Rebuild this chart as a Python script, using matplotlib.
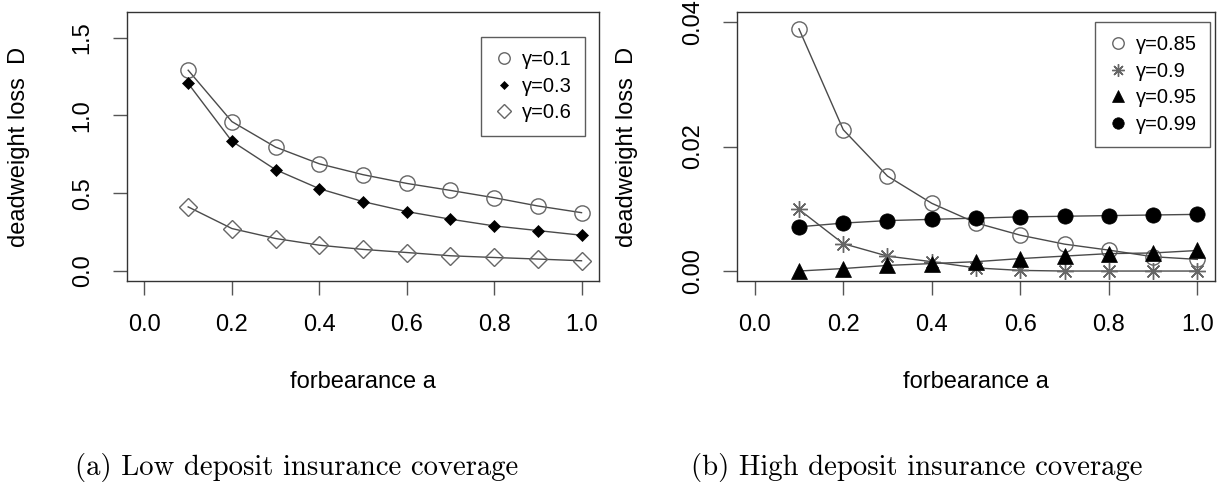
import numpy as np
import matplotlib as mpl
mpl.use('Agg')
import matplotlib.pyplot as plt
from matplotlib.lines import Line2D

# forbearance a
a_vals = [0.1, 0.2, 0.3, 0.4, 0.5, 0.6, 0.7, 0.8, 0.9, 1.0]

# Low deposit insurance coverage
low_labels = ['γ=0.1', 'γ=0.3', 'γ=0.6']
d_g01 = [1.29, 0.96, 0.796, 0.689, 0.619, 0.563, 0.518, 0.471, 0.418, 0.375]
d_g03 = [1.205, 0.834, 0.651, 0.529, 0.446, 0.382, 0.333, 0.290, 0.260, 0.230]
d_g06 = [0.412, 0.273, 0.209, 0.166, 0.139, 0.119, 0.098, 0.087, 0.077, 0.066]

# High deposit insurance coverage
high_labels = ['γ=0.85', 'γ=0.9', 'γ=0.95', 'γ=0.99']
d_g085 = [0.0389, 0.0227, 0.01525, 0.01088, 0.00773, 0.00576, 0.00432, 0.00336, 0.0023, 0.00187]
d_g090 = [0.0099, 0.0044, 0.0024, 0.0015, 0.0005, 0.0001, 0.0, 0.0, 0.0, 0.0]
d_g095 = [0.0, 0.0004, 0.0009, 0.0012, 0.0015, 0.002, 0.0024, 0.0028, 0.0029, 0.0033]
d_g099 = [0.0071, 0.0077, 0.0081, 0.0083, 0.0085, 0.0087, 0.0088, 0.0089, 0.009, 0.0091]

captions = ['(a) Low deposit insurance coverage', '(b) High deposit insurance coverage']

plt.rcParams['font.family'] = ['Liberation Sans', 'DejaVu Sans']

LINE_C = '#4a4a4a'
OPEN_C = '#666666'
BOX_C = '#333333'

# marker styles, R-like: pch 1, 18, 5 / 1, 8, 17, 19
low_styles = [dict(marker='o', ms=11, mfc='none', mec=OPEN_C, mew=1.0),
              dict(marker='D', ms=6, mfc='black', mec='black', mew=0.5),
              dict(marker='D', ms=9.5, mfc='none', mec=OPEN_C, mew=1.0)]
high_styles = [dict(marker='o', ms=11, mfc='none', mec=OPEN_C, mew=1.0),
               dict(marker=(8, 2, 0), ms=12, mfc='none', mec=OPEN_C, mew=1.0),
               dict(marker='^', ms=11, mfc='black', mec='black', mew=0.5),
               dict(marker='o', ms=11, mfc='black', mec='black', mew=0.5)]


def style_axes(ax, yticks, ylabels, ylim):
  ax.set_xlim(-0.04, 1.04)
  ax.set_ylim(ylim[0] - 0.04*(ylim[1]-ylim[0]), ylim[1] + 0.04*(ylim[1]-ylim[0]))
  ax.set_xticks([0.0, 0.2, 0.4, 0.6, 0.8, 1.0])
  ax.set_xticklabels(['0.0', '0.2', '0.4', '0.6', '0.8', '1.0'])
  ax.set_yticks(yticks)
  ax.set_yticklabels(ylabels, rotation=90, va='center')
  ax.tick_params(axis='both', direction='out', length=10, width=1.0, color='#555555',
                 labelsize=17, pad=14)
  for s in ax.spines.values():
    s.set_color(BOX_C)
    s.set_linewidth(1.0)
  ax.set_xlabel('forbearance a', fontsize=17)
  ax.set_ylabel('deadweight loss  D', fontsize=17)
  ax.xaxis.set_label_coords(0.5, -0.335)


def make_legend(ax, labels, styles, anchor, fs):
  handles = [Line2D([], [], linestyle='none', **{k: (v*0.75 if k == 'ms' else v) for k, v in st.items()})
             for st in styles]
  lg = ax.legend(handles, labels, loc='upper right', bbox_to_anchor=anchor, fontsize=fs,
                 frameon=True, fancybox=False, handlelength=1.0, handletextpad=0.4,
                 labelspacing=0.38, borderpad=0.65, borderaxespad=0.0)
  lg.get_frame().set_edgecolor(BOX_C)
  lg.get_frame().set_linewidth(1.0)


fg = plt.figure(figsize=(12.18, 4.82), dpi=100)
ax1 = fg.add_axes([127/1218, 1 - 281/482, 472/1218, 269/482])
ax2 = fg.add_axes([737/1218, 1 - 281/482, 478/1218, 269/482])

# left panel
for y, st in zip([d_g01, d_g03, d_g06], low_styles):
  ax1.plot(a_vals, y, color=LINE_C, lw=1.0, **st)
style_axes(ax1, [0.0, 0.5, 1.0, 1.5], ['0.0', '0.5', '1.0', '1.5'], (0.0, 1.6))
ax1.yaxis.set_label_coords(-0.205, 0.5)
make_legend(ax1, low_labels, low_styles, (0.970, 0.907), 14.5)

# right panel
for y, st in zip([d_g085, d_g090, d_g095, d_g099], high_styles):
  ax2.plot(a_vals, y, color=LINE_C, lw=1.0, **st)
style_axes(ax2, [0.0, 0.02, 0.04], ['0.00', '0.02', '0.04'], (0.0, 0.04))
ax2.yaxis.set_label_coords(-0.207, 0.5)
make_legend(ax2, high_labels, high_styles, (0.990, 0.963), 14.5)

# subfigure captions
for xc, t in zip([297, 917], captions):
  fg.text(xc/1218, 7/482, t, ha='center', va='baseline', fontsize=20.7, family='cmr10')

fg.savefig('out.png', dpi=100)
